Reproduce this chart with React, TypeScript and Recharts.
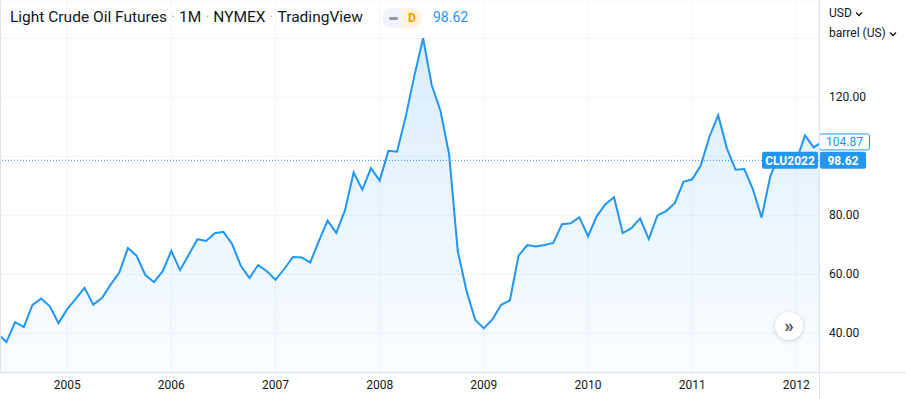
import { ComposedChart, Area, XAxis, YAxis, CartesianGrid, ReferenceLine } from 'recharts'

// monthly closes, CL1! continuous (May 2004 – Apr 2012)
const closes2004 = [39.88, 37.05, 43.8, 42.12, 49.64, 51.76, 49.13, 43.45]
const closes2005 = [48.2, 51.75, 55.4, 49.72, 51.97, 56.5, 60.57, 68.94, 66.24, 59.76, 57.32, 61.04]
const closes2006 = [67.92, 61.41, 66.63, 71.88, 71.29, 73.93, 74.4, 70.26, 62.91, 58.73, 63.13, 61.05]
const closes2007 = [58.14, 61.79, 65.87, 65.71, 64.01, 71.3, 78.21, 74.04, 81.66, 94.53, 88.71, 95.98]
const closes2008 = [91.75, 101.84, 101.58, 113.46, 127.35, 140.0, 124.08, 115.46, 100.64, 67.81, 54.43, 44.6]
const closes2009 = [41.68, 44.76, 49.66, 51.12, 66.31, 69.89, 69.45, 69.96, 70.61, 77.0, 77.28, 79.36]
const closes2010 = [72.89, 79.66, 83.76, 86.15, 73.97, 75.63, 78.95, 71.92, 79.97, 81.43, 84.11, 91.38]
const closes2011 = [92.19, 96.97, 106.72, 113.93, 102.7, 95.42, 95.7, 88.81, 79.2, 93.19, 100.36, 98.83]
const closes2012 = [98.48, 107.07, 103.02, 104.87]

const yearTicks = [0, 12, 24, 36, 48, 60, 72, 84]
const yearLabels = ['2005', '2006', '2007', '2008', '2009', '2010', '2011', '2012']
const priceTicks = [40, 60, 80, 100, 120, 140]
const hiddenPriceTicks = [100, 140]

const symbolName = 'CLU2022'
const symbolPrice = 98.62
const lastClose = 104.87

const years = [
  { year: 2004, first: 4, closes: closes2004 },
  { year: 2005, first: 0, closes: closes2005 },
  { year: 2006, first: 0, closes: closes2006 },
  { year: 2007, first: 0, closes: closes2007 },
  { year: 2008, first: 0, closes: closes2008 },
  { year: 2009, first: 0, closes: closes2009 },
  { year: 2010, first: 0, closes: closes2010 },
  { year: 2011, first: 0, closes: closes2011 },
  { year: 2012, first: 0, closes: closes2012 },
]

// m = months since Jan 2005
const data = years.flatMap((y) =>
  y.closes.map((close, i) => ({ m: (y.year - 2005) * 12 + y.first + i, close }))
)

const FONT = 'Roboto, "Noto Sans", sans-serif'
const TEXT = '#131722'
const BLUE = '#2196F3'
const BORDER = '#e0e3eb'

function PriceTick(props: any) {
  const { x, y, payload } = props
  if (hiddenPriceTicks.includes(payload.value)) return null
  return (
    <text x={x} y={y} dx={2} dy="0.35em" textAnchor="start" fontSize={12} fill={TEXT} fontFamily={FONT}>
      {payload.value.toFixed(2)}
    </text>
  )
}

function SymbolLabel(props: any) {
  const { x, y, width } = props.viewBox
  const right = x + width
  return (
    <g fontFamily={FONT} fontSize={12} fontWeight={700}>
      <rect x={right - 57} y={y - 8.5} width={56} height={17} rx={2} fill={BLUE} />
      <text x={right - 29} y={y} dy="0.36em" textAnchor="middle" fill="#fff">{symbolName}</text>
      <rect x={right + 1} y={y - 8.5} width={46} height={17} rx={2} fill={BLUE} />
      <text x={right + 24} y={y} dy="0.36em" textAnchor="middle" fill="#fff">{symbolPrice.toFixed(2)}</text>
    </g>
  )
}

function LastLabel(props: any) {
  const { x, y, width } = props.viewBox
  const right = x + width
  return (
    <g fontFamily={FONT} fontSize={12}>
      <rect x={right + 0.5} y={y - 8} width={50} height={16} rx={2} fill="#fff" stroke={BLUE} />
      <text x={right + 25.5} y={y} dy="0.36em" textAnchor="middle" fill={BLUE}>{lastClose.toFixed(2)}</text>
    </g>
  )
}

const Chevron = () => (
  <svg width="8" height="6" style={{ marginLeft: 3, verticalAlign: 'middle' }}>
    <path d="M1 1.5 L4 4.5 L7 1.5" stroke={TEXT} strokeWidth="1.3" fill="none" />
  </svg>
)

const Dot = () => <span style={{ color: '#b2b5be', margin: '0 4px' }}>·</span>

export default function App() {
  return (
    <div style={{ position: 'relative', width: 906, height: 399, background: '#fff', fontFamily: FONT, overflow: 'hidden' }}>
      <style>{'body{margin:0}'}</style>
      <ComposedChart width={906} height={399} data={data} margin={{ top: 0, right: 0, bottom: 0, left: 0 }}>
        <defs>
          <linearGradient id="oilFill" x1="0" y1="0" x2="0" y2="1">
            <stop offset="0%" stopColor={BLUE} stopOpacity={0.28} />
            <stop offset="100%" stopColor={BLUE} stopOpacity={0.04} />
          </linearGradient>
        </defs>
        <CartesianGrid stroke="#f0f3fa" />
        <XAxis
          dataKey="m"
          type="number"
          domain={[-7.742, 86.613]}
          allowDataOverflow
          ticks={yearTicks}
          tickFormatter={(m: number) => yearLabels[yearTicks.indexOf(m)]}
          height={27}
          axisLine={false}
          tickLine={false}
          tick={{ fontSize: 12, fill: TEXT, fontFamily: FONT }}
        />
        <YAxis
          orientation="right"
          width={87}
          domain={[26.88, 152.98]}
          allowDataOverflow
          ticks={priceTicks}
          axisLine={false}
          tickLine={false}
          tick={<PriceTick />}
        />
        <Area
          type="linear"
          dataKey="close"
          stroke={BLUE}
          strokeWidth={2}
          fill="url(#oilFill)"
          dot={false}
          activeDot={false}
          isAnimationActive={false}
        />
        <ReferenceLine y={symbolPrice} stroke={BLUE} strokeDasharray="1 2" label={(p: any) => <SymbolLabel {...p} />} />
        <ReferenceLine y={lastClose} stroke="none" label={(p: any) => <LastLabel {...p} />} />
      </ComposedChart>

      {/* frame lines */}
      <div style={{ position: 'absolute', left: 0, top: 372, width: 906, height: 1, background: BORDER }} />
      <div style={{ position: 'absolute', left: 819, top: 0, width: 1, height: 399, background: BORDER }} />
      <div style={{ position: 'absolute', left: 0, top: 0, width: 1, height: 372, background: BORDER }} />

      {/* legend header */}
      <div style={{ position: 'absolute', left: 10, top: 8, fontSize: 15.5, lineHeight: '19px', color: TEXT, whiteSpace: 'nowrap' }}>
        Light Crude Oil Futures<Dot />1M<Dot />NYMEX<Dot />TradingView
      </div>
      <div style={{ position: 'absolute', left: 382, top: 8, width: 40, height: 20, borderRadius: 10, overflow: 'hidden', display: 'flex' }}>
        <div style={{ width: 20, background: '#f0f3fa', display: 'flex', alignItems: 'center', justifyContent: 'center' }}>
          <div style={{ width: 9, height: 3, borderRadius: 2, background: '#9598a1', marginLeft: 3 }} />
        </div>
        <div style={{ width: 20, background: '#fff3e0', color: '#ff9800', fontSize: 12, fontWeight: 700, lineHeight: '20px', textAlign: 'center' }}>D</div>
      </div>
      <div style={{ position: 'absolute', left: 433, top: 8, fontSize: 14, lineHeight: '19px', color: BLUE }}>{symbolPrice.toFixed(2)}</div>

      {/* price scale header */}
      <div style={{ position: 'absolute', left: 829, top: 5, fontSize: 12, lineHeight: '16px', color: TEXT }}>USD<Chevron /></div>
      <div style={{ position: 'absolute', left: 829, top: 25, fontSize: 12, lineHeight: '16px', color: TEXT }}>barrel (US)<Chevron /></div>

      {/* scroll button */}
      <div
        style={{
          position: 'absolute', left: 775, top: 312, width: 28, height: 28, borderRadius: '50%', background: '#fff',
          boxShadow: '0 1px 4px rgba(0,0,0,0.18)', color: '#50535e', fontSize: 19, fontWeight: 700,
          display: 'flex', alignItems: 'center', justifyContent: 'center', lineHeight: 1, paddingBottom: 2, boxSizing: 'border-box',
        }}
      >
        »
      </div>
    </div>
  )
}
